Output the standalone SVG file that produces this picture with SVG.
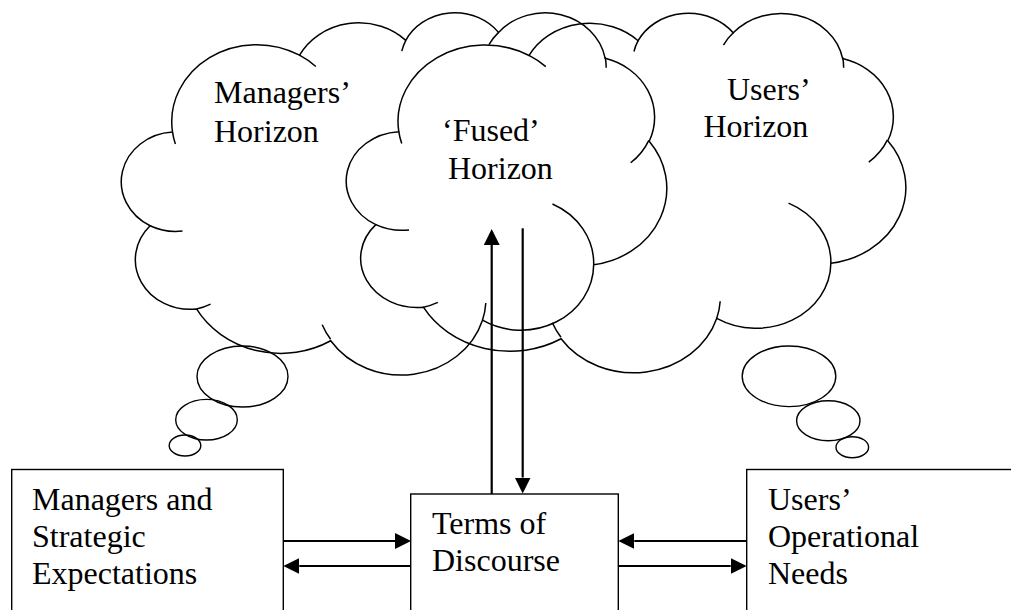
<svg xmlns="http://www.w3.org/2000/svg" xmlns:xlink="http://www.w3.org/1999/xlink" width="1011" height="610" viewBox="0 0 1011 610">
<style>
  .cl { fill: none; stroke: #000; stroke-width: 1.5; vector-effect: non-scaling-stroke; }
  .bub { fill: none; stroke: #000; stroke-width: 1.4; }
  .box { fill: none; stroke: #000; stroke-width: 1.4; }
  .t { font-family: 'Liberation Serif', 'Times New Roman', serif; font-size: 32px; fill: #000; }
  .ar { fill: none; stroke: #000; stroke-width: 2.2; }
</style>
<defs>
  <marker id="ah" viewBox="0 0 16 16" refX="0" refY="8" markerWidth="16" markerHeight="16" markerUnits="userSpaceOnUse" orient="auto">
    <path d="M0 0 L16 8 L0 16 Z" fill="#000"/>
  </marker>
  <g id="cloud">
    <path class="cl" d="M3900 14370 A6753 9190 0 0 1 14005 5202 A5333 7267 0 0 1 22460 3429 A4365 5945 0 0 1 29839 2480 A4857 6595 0 0 1 38324 5575 A5333 7273 0 0 1 41825 15459 A6775 9220 0 0 1 37409 30199 A5785 7867 0 0 1 28561 36809 A6752 9215 0 0 1 16486 39264 A7720 10543 0 0 1 5810 35468 A4360 5918 0 0 1 2119 25546 A4345 5945 0 0 1 3900 14370 Z"/>
    <path class="cl" d="M4693 26177 A4345 5945 0 0 1 2119 25546 M6928 34899 A4360 5918 0 0 1 5810 35468 M16478 39090 A6752 9215 0 0 1 15809 37346 M28827 34751 A6752 9215 0 0 1 28561 36809 M34129 22954 A5785 7867 0 0 1 37409 30199 M41798 15354 A5333 7273 0 0 1 40350 18030 M38324 5426 A4857 6595 0 0 1 38400 6690 M29078 3952 A4857 6595 0 0 1 29839 2480 M22141 4720 A4365 5945 0 0 1 22460 3429 M14000 5192 A6753 9190 0 0 1 15303 6544 M4127 15789 A6753 9190 0 0 1 3900 14370"/>
  </g>
</defs>

<g id="managers-horizon">
  <use xlink:href="#cloud" href="#cloud" transform="translate(123.5 11.6) scale(0.012569 0.0083833)"/>
  <ellipse class="bub" cx="242.5" cy="376.5" rx="45.5" ry="30.5"/>
  <ellipse class="bub" cx="206.5" cy="419.7" rx="30.8" ry="20.3"/>
  <ellipse class="bub" cx="185" cy="445.5" rx="15.8" ry="10.5"/>
  <text class="t" x="214" y="103">Managers’</text>
  <text class="t" x="214" y="142">Horizon</text>
</g>

<g id="users-horizon">
  <use xlink:href="#cloud" href="#cloud" transform="translate(348.5 12.2) scale(0.012894 0.0083162)"/>
  <ellipse class="bub" cx="789" cy="376.3" rx="46.8" ry="30.3"/>
  <ellipse class="bub" cx="828.3" cy="420.7" rx="31.7" ry="20"/>
  <ellipse class="bub" cx="852.3" cy="447.2" rx="16.3" ry="10.5"/>
  <text class="t" x="727" y="100">Users’</text>
  <text class="t" x="703.5" y="137">Horizon</text>
</g>

<g id="fused-horizon">
  <text class="t" x="442" y="141">‘Fused’</text>
  <text class="t" x="448" y="179">Horizon</text>
</g>

<g id="managers-box">
  <rect class="box" x="11.7" y="469.5" width="271.6" height="160"/>
  <text class="t" x="32" y="510">Managers and</text>
  <text class="t" x="32" y="547">Strategic</text>
  <text class="t" x="32" y="584">Expectations</text>
</g>

<g id="terms-box">
  <rect class="box" x="410.7" y="494" width="207.6" height="140"/>
  <text class="t" x="432" y="534">Terms of</text>
  <text class="t" x="432" y="571">Discourse</text>
</g>

<g id="users-box">
  <rect class="box" x="746.7" y="469.5" width="290" height="160"/>
  <text class="t" x="768" y="510">Users’</text>
  <text class="t" x="768" y="547">Operational</text>
  <text class="t" x="768" y="584">Needs</text>
</g>

<g id="connectors">
  <path class="ar" d="M283.3 541 H395" marker-end="url(#ah)"/>
  <path class="ar" d="M410.7 566 H299.3" marker-end="url(#ah)"/>
  <path class="ar" d="M746.7 541 H634.3" marker-end="url(#ah)"/>
  <path class="ar" d="M618.3 566 H730.7" marker-end="url(#ah)"/>
  <path class="ar" d="M491.7 494 V245" marker-end="url(#ah)"/>
  <path class="ar" d="M522.7 228.3 V477.5" marker-end="url(#ah)"/>
</g>
</svg>
